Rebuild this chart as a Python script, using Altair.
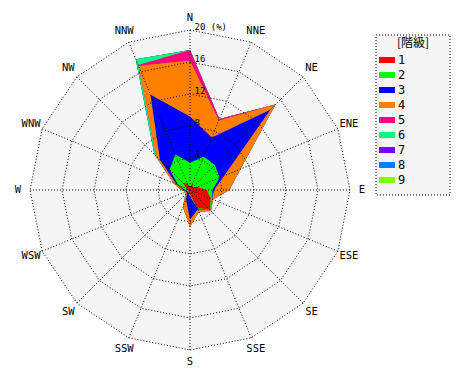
import altair as alt
import pandas as pd

directions = ["N", "NNE", "NE", "ENE", "E", "ESE", "SE", "SSE",
              "S", "SSW", "SW", "WSW", "W", "WNW", "NW", "NNW"]
classes = ["1", "2", "3", "4", "5", "6", "7", "8", "9"]
class_colors = ["#ff0000", "#00ff00", "#0000ff", "#ff8000", "#ff0080",
                "#00ff80", "#8000ff", "#0080ff", "#80ff00"]
ring_values = [4, 8, 12, 16, 20]
ring_labels = ["4", "8", "12", "16", "20 (%)"]

# frequency (%) of each class per direction, order N, NNE, ... NNW
freq_1 = [0.4, 0.8, 0.5, 1.0, 2.1, 2.8, 3.5, 2.4, 0.6, 0.3, 0.2, 0.2, 0.3, 0.4, 1.2, 0.9]
freq_2 = [3.0, 3.7, 3.9, 3.0, 0.7, 0.2, 0.1, 0.1, 0.2, 0.2, 0.1, 0.2, 0.3, 1.2, 2.4, 3.9]
freq_3 = [5.8, 2.6, 9.8, 0.6, 0.2, 0.0, 0.0, 0.1, 2.9, 0.8, 0.2, 0.1, 0.2, 0.2, 1.7, 8.1]
freq_4 = [7.0, 2.3, 0.9, 2.2, 1.9, 0.1, 0.1, 0.3, 0.9, 1.0, 0.3, 0.1, 0.3, 0.4, 0.7, 3.9]
freq_5 = [1.3, 0.2, 0.0, 0.0, 0.0, 0.0, 0.0, 0.0, 0.0, 0.0, 0.0, 0.0, 0.0, 0.0, 0.0, 0.1]
freq_6 = [0.0, 0.0, 0.0, 0.0, 0.0, 0.0, 0.0, 0.0, 0.0, 0.0, 0.0, 0.0, 0.0, 0.0, 0.3, 0.8]
freq_7 = [0.0, 0.0, 0.0, 0.0, 0.0, 0.0, 0.0, 0.0, 0.0, 0.0, 0.0, 0.0, 0.0, 0.0, 0.0, 0.0]
freq_8 = [0.0, 0.0, 0.0, 0.0, 0.0, 0.0, 0.0, 0.0, 0.0, 0.0, 0.0, 0.0, 0.0, 0.0, 0.0, 0.0]
freq_9 = [0.0, 0.0, 0.0, 0.0, 0.0, 0.0, 0.0, 0.0, 0.0, 0.0, 0.0, 0.0, 0.0, 0.0, 0.0, 0.0]
series = [freq_1, freq_2, freq_3, freq_4, freq_5, freq_6, freq_7, freq_8, freq_9]

# cumulative polygons (stacked wind rose)
rows = []
cum = [0.0] * len(directions)
for cls, f in zip(classes, series):
    cum = [a + b for a, b in zip(cum, f)]
    for k in range(len(directions) + 1):
        d = k % len(directions)
        rows.append({"cls": cls, "pt": k, "dir": d, "value": round(cum[d], 3)})
poly_df = pd.DataFrame(rows)

ring_rows = []
for rv in ring_values:
    for k in range(len(directions) + 1):
        ring_rows.append({"ring": rv, "pt": k, "dir": k % len(directions)})
ring_df = pd.DataFrame(ring_rows)

dir_df = pd.DataFrame({"name": directions, "dir": list(range(len(directions)))})
rlab_df = pd.DataFrame({"ring": ring_values, "label": ring_labels})

xs = alt.Scale(domain=[-22.75, 34.0], nice=False, zero=False)
ys = alt.Scale(domain=[-22.75, 22.75], nice=False, zero=False)
DOT = [1, 2]
FONT = "DejaVu Sans Mono"

color_scale = alt.Scale(domain=classes, range=class_colors)
legend = alt.Legend(
    title=None, orient="none", legendX=372, legendY=45, padding=0,
    symbolType="M-1.185,-0.444H1.185V0.444H-1.185Z", symbolSize=182,
    symbolStrokeWidth=0, symbolOpacity=1, labelFont=FONT, labelFontSize=12,
    labelOffset=4, rowPadding=2, labelColor="black",
)

ring_base = alt.Chart(ring_df).transform_calculate(
    px="datum.ring * sin(datum.dir * PI / 8)",
    py="datum.ring * cos(datum.dir * PI / 8)",
)

bg = ring_base.transform_filter(alt.datum.ring == 20).mark_line(
    filled=True, fill="#f5f5f5", strokeWidth=0
).encode(
    x=alt.X("px:Q", scale=xs, axis=None),
    y=alt.Y("py:Q", scale=ys, axis=None),
    order="pt:Q",
)

poly_base = alt.Chart(poly_df).transform_calculate(
    px="datum.value * sin(datum.dir * PI / 8)",
    py="datum.value * cos(datum.dir * PI / 8)",
)
data_layers = []
for cls in reversed(classes):
    data_layers.append(
        poly_base.transform_filter(alt.datum.cls == cls).mark_line(
            filled=True, strokeWidth=0
        ).encode(
            x=alt.X("px:Q", scale=xs, axis=None),
            y=alt.Y("py:Q", scale=ys, axis=None),
            order="pt:Q",
            color=alt.Color("cls:N", scale=color_scale, legend=legend),
        )
    )

rings = ring_base.mark_line(stroke="black", strokeDash=DOT, strokeWidth=1).encode(
    x=alt.X("px:Q", scale=xs, axis=None),
    y=alt.Y("py:Q", scale=ys, axis=None),
    order="pt:Q",
    detail="ring:N",
)

spokes = alt.Chart(dir_df).transform_calculate(
    x0="0", y0="0",
    x1="20 * sin(datum.dir * PI / 8)",
    y1="20 * cos(datum.dir * PI / 8)",
).mark_rule(stroke="black", strokeDash=DOT, strokeWidth=1).encode(
    x=alt.X("x0:Q", scale=xs, axis=None),
    y=alt.Y("y0:Q", scale=ys, axis=None),
    x2="x1:Q", y2="y1:Q",
)

dir_labels = alt.Chart(dir_df).transform_calculate(
    px="21.5 * sin(datum.dir * PI / 8)",
    py="21.5 * cos(datum.dir * PI / 8)",
).mark_text(font=FONT, fontSize=10.5, align="center", baseline="middle", color="black").encode(
    x=alt.X("px:Q", scale=xs, axis=None),
    y=alt.Y("py:Q", scale=ys, axis=None),
    text="name:N",
)

ring_text = alt.Chart(rlab_df).transform_calculate(px="0").mark_text(
    font=FONT, fontSize=9, align="left", baseline="alphabetic", dx=4.5, dy=0, color="black"
).encode(
    x=alt.X("px:Q", scale=xs, axis=None),
    y=alt.Y("ring:Q", scale=ys, axis=None),
    text="label:N",
)

frame = alt.Chart(pd.DataFrame({"k": [0]})).mark_rect(
    fill="#f5f5f5", stroke="black", strokeDash=DOT, strokeWidth=1
).encode(x=alt.value(368), x2=alt.value(442), y=alt.value(27), y2=alt.value(187))

title_text = alt.Chart(pd.DataFrame({"t": ["[階級]"]})).mark_text(
    font="Noto Sans CJK JP", fontSize=12, align="center", baseline="middle", color="black"
).encode(text="t:N", x=alt.value(405), y=alt.value(35))

chart = alt.layer(
    bg, *data_layers, rings, spokes, dir_labels, ring_text, frame, title_text
).properties(
    width=454, height=364, autosize=alt.AutoSizeParams(type="none"), padding=0
).configure_view(stroke=None)

chart.save("out.html", embed_options={"renderer": "svg", "actions": False})
